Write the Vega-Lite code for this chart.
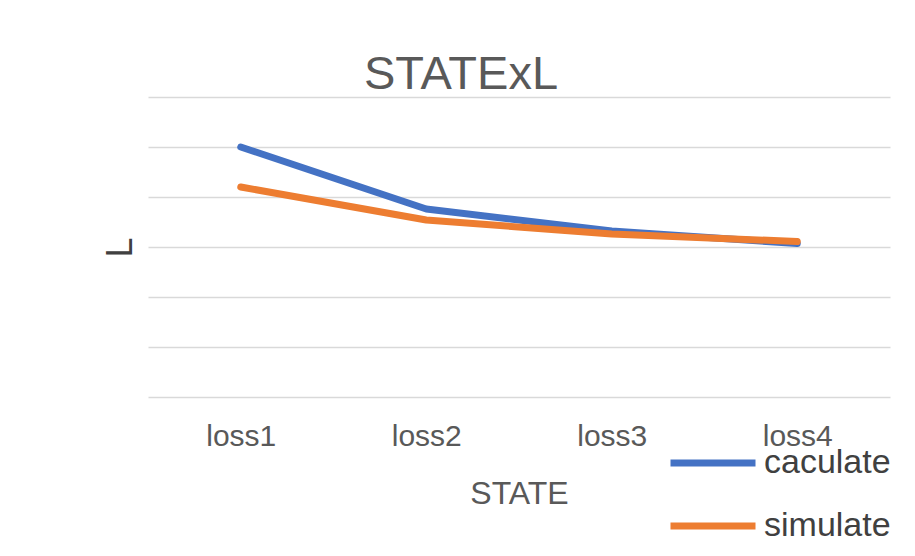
{
  "$schema": "https://vega.github.io/schema/vega-lite/v6.json",
  "width": 742,
  "height": 300,
  "autosize": {"type": "none"},
  "padding": {"left": 148, "top": 97, "right": 25, "bottom": 159},
  "background": "white",
  "config": {
    "font": "Liberation Sans",
    "view": {"stroke": null}
  },
  "title": {
    "text": "STATExL",
    "fontSize": 47,
    "fontWeight": "normal",
    "color": "#595959",
    "anchor": "middle",
    "dx": -58,
    "offset": -2
  },
  "data": {
    "values": [
      {"state": "loss1", "series": "caculate", "L": 5.0},
      {"state": "loss2", "series": "caculate", "L": 3.76},
      {"state": "loss3", "series": "caculate", "L": 3.32},
      {"state": "loss4", "series": "caculate", "L": 3.07},
      {"state": "loss1", "series": "simulate", "L": 4.2},
      {"state": "loss2", "series": "simulate", "L": 3.54},
      {"state": "loss3", "series": "simulate", "L": 3.26},
      {"state": "loss4", "series": "simulate", "L": 3.11}
    ]
  },
  "mark": {"type": "line", "strokeWidth": 7, "strokeCap": "round", "strokeJoin": "round"},
  "encoding": {
    "x": {
      "field": "state",
      "type": "ordinal",
      "scale": {"type": "point", "padding": 0.5},
      "axis": {
        "title": "STATE",
        "labelAngle": 0,
        "labelFontSize": 30,
        "labelColor": "#595959",
        "labelPadding": 24,
        "titleFontSize": 32,
        "titleFontWeight": "normal",
        "titleColor": "#595959",
        "titlePadding": 27,
        "domain": false,
        "ticks": false,
        "grid": false
      }
    },
    "y": {
      "field": "L",
      "type": "quantitative",
      "scale": {"domain": [0, 6], "nice": false},
      "axis": {
        "title": "L",
        "values": [0, 1, 2, 3, 4, 5, 6],
        "labels": false,
        "ticks": false,
        "domain": false,
        "grid": true,
        "gridColor": "#D9D9D9",
        "gridWidth": 1.5,
        "titleFontSize": 36,
        "titleFontWeight": "normal",
        "titleColor": "#404040",
        "titlePadding": 9
      }
    },
    "color": {
      "field": "series",
      "type": "nominal",
      "scale": {"domain": ["caculate", "simulate"], "range": ["#4472C4", "#ED7D31"]},
      "legend": {
        "title": null,
        "orient": "none",
        "legendX": 519,
        "legendY": 320,
        "padding": 0,
        "symbolType": "stroke",
        "symbolSize": 7225,
        "symbolStrokeWidth": 7,
        "labelFontSize": 34,
        "labelColor": "#404040",
        "labelOffset": 5,
        "rowPadding": -39
      }
    }
  }
}
